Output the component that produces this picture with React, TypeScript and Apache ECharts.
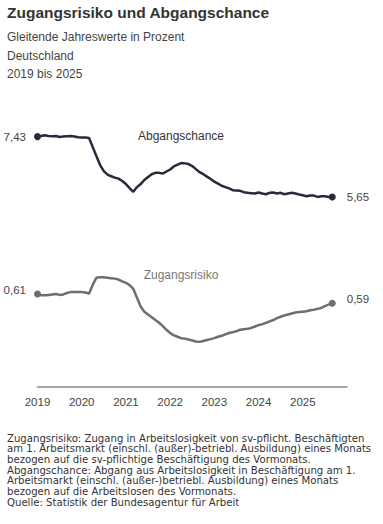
import React, { useEffect, useRef } from "react";
import * as echarts from "echarts";

const yearLabels = ["2019", "2020", "2021", "2022", "2023", "2024", "2025"];

// Monthly values Jan 2019 .. Sep 2025
const abgangschance = [
  7.43, 7.45, 7.47, 7.45, 7.44, 7.45, 7.42, 7.43, 7.44, 7.45, 7.43, 7.41,
  7.40, 7.40, 7.39, 7.12, 6.85, 6.59, 6.41, 6.31, 6.26, 6.22, 6.19, 6.12,
  6.03, 5.91, 5.80, 5.94, 6.03, 6.15, 6.24, 6.32, 6.36, 6.36, 6.34, 6.40,
  6.46, 6.55, 6.60, 6.65, 6.64, 6.62, 6.56, 6.47, 6.38, 6.32, 6.25, 6.18,
  6.10, 6.04, 5.98, 5.94, 5.90, 5.85, 5.84, 5.83, 5.79, 5.77, 5.76, 5.75,
  5.78, 5.75, 5.73, 5.77, 5.78, 5.75, 5.77, 5.73, 5.75, 5.77, 5.75, 5.72,
  5.70, 5.67, 5.69, 5.69, 5.65, 5.67, 5.67, 5.65, 5.65,
];

const zugangsrisiko = [
  0.610, 0.607, 0.607, 0.608, 0.609, 0.610, 0.608, 0.609, 0.612, 0.614, 0.614, 0.614,
  0.614, 0.613, 0.611, 0.630, 0.645, 0.646, 0.646, 0.645, 0.644, 0.643, 0.641, 0.637,
  0.634, 0.629, 0.621, 0.602, 0.583, 0.572, 0.566, 0.560, 0.554, 0.548, 0.541, 0.533,
  0.526, 0.521, 0.518, 0.515, 0.514, 0.512, 0.510, 0.508, 0.507, 0.509, 0.511, 0.513,
  0.515, 0.518, 0.520, 0.523, 0.526, 0.528, 0.530, 0.533, 0.534, 0.535, 0.537, 0.540,
  0.543, 0.545, 0.548, 0.551, 0.554, 0.558, 0.561, 0.564, 0.566, 0.568, 0.570, 0.571,
  0.572, 0.573, 0.575, 0.576, 0.578, 0.580, 0.584, 0.587, 0.590,
];

const titleText = "Zugangsrisiko und Abgangschance";
const subtitleLines = ["Gleitende Jahreswerte in Prozent", "Deutschland", "2019 bis 2025"];
const footerLines = [
  "Zugangsrisiko: Zugang in Arbeitslosigkeit von sv-pflicht. Beschäftigten",
  "am 1. Arbeitsmarkt (einschl. (außer)-betriebl. Ausbildung) eines Monats",
  "bezogen auf die sv-pflichtige Beschäftigung des Vormonats.",
  "Abgangschance: Abgang aus Arbeitslosigkeit in Beschäftigung am 1.",
  "Arbeitsmarkt (einschl. (außer-)betriebl. Ausbildung) eines Monats",
  "bezogen auf die Arbeitslosen des Vormonats.",
  "Quelle: Statistik der Bundesagentur für Arbeit",
];

const categories: string[] = [];
[...yearLabels, "2026"].forEach((y) => {
  for (let m = 1; m <= 12; m++) categories.push(`${y}-${m < 10 ? "0" + m : m}`);
});
const cats = categories.slice(0, 85);

const fmt = (v: number) => v.toFixed(2).replace(".", ",");

function buildData(values: number[], color: string, labelOffsetY: number) {
  const last = values.length - 1;
  return values.map((v, i) => {
    if (i === 0 || i === last) {
      return {
        value: v,
        symbol: "circle",
        symbolSize: 7,
        label: {
          show: true,
          position: i === 0 ? "left" : "right",
          distance: i === 0 ? 8 : 11,
          offset: [0, labelOffsetY],
          formatter: () => fmt(v),
          color: "#444",
          fontSize: 11.5,
          fontFamily: "Liberation Sans, Arial, sans-serif",
        },
        itemStyle: { color },
      };
    }
    return { value: v, symbolSize: 0, symbol: "none" };
  });
}

export default function App() {
  const ref = useRef<HTMLDivElement>(null);
  useEffect(() => {
    document.body.style.margin = "0";
    const chart = echarts.init(ref.current!, undefined, { renderer: "svg" });
    const font = "Liberation Sans, Arial, sans-serif";
    const navy = "#262b3b";
    const gray = "#6e6e6e";
    chart.setOption({
      animation: false,
      backgroundColor: "#ffffff",
      grid: { left: 37.5, right: 36, top: 120, bottom: 137, containLabel: false },
      xAxis: {
        type: "category",
        data: cats,
        boundaryGap: false,
        axisTick: { show: false },
        axisLine: { lineStyle: { color: "#8a8a8a", width: 1.5 } },
        axisLabel: {
          interval: (index: number) => index % 12 === 0 && index < 84,
          formatter: (val: string) => val.slice(0, 4),
          color: "#444",
          fontSize: 11.5,
          fontFamily: font,
          margin: 9,
        },
        splitLine: { show: false },
      },
      yAxis: [
        { type: "value", show: false, min: 0.04, max: 7.92, splitLine: { show: false } },
        { type: "value", show: false, min: 0.41, max: 0.984, splitLine: { show: false } },
      ],
      series: [
        {
          name: "Abgangschance",
          type: "line",
          yAxisIndex: 0,
          data: buildData(abgangschance, navy, 0),
          showAllSymbol: true,
          lineStyle: { color: navy, width: 2.5 },
          itemStyle: { color: navy },
          smooth: false,
        },
        {
          name: "Zugangsrisiko",
          type: "line",
          yAxisIndex: 1,
          data: buildData(zugangsrisiko, gray, -4),
          showAllSymbol: true,
          lineStyle: { color: gray, width: 2.5 },
          itemStyle: { color: gray },
          smooth: false,
        },
      ],
      graphic: [
        {
          type: "text",
          x: 7,
          y: 12,
          style: {
            text: titleText,
            fontSize: 15.5,
            fontWeight: "bold",
            fill: "#333",
            fontFamily: font,
            textVerticalAlign: "middle",
          },
        },
        ...subtitleLines.map((t, i) => ({
          type: "text",
          x: 7,
          y: 37 + i * 18.6,
          style: { text: t, fontSize: 12, fill: "#444", fontFamily: font, textVerticalAlign: "middle" },
        })),
        {
          type: "text",
          x: 181,
          y: 136,
          style: {
            text: "Abgangschance",
            fontSize: 12,
            fill: "#333",
            fontFamily: font,
            textAlign: "center",
            textVerticalAlign: "middle",
          },
        },
        {
          type: "text",
          x: 181,
          y: 275,
          style: {
            text: "Zugangsrisiko",
            fontSize: 12,
            fill: "#777",
            fontFamily: font,
            textAlign: "center",
            textVerticalAlign: "middle",
          },
        },
        ...footerLines.map((t, i) => ({
          type: "text",
          x: 7,
          y: 438.3 + i * 10.65,
          style: {
            text: t,
            fontSize: 10.15,
            fill: "#333",
            fontFamily: "DejaVu Sans, sans-serif",
            textVerticalAlign: "middle",
          },
        })),
      ],
    });
    return () => chart.dispose();
  }, []);
  return (
    <div
      ref={ref}
      style={{ position: "absolute", left: 0, top: 0, width: 383, height: 524 }}
    />
  );
}
